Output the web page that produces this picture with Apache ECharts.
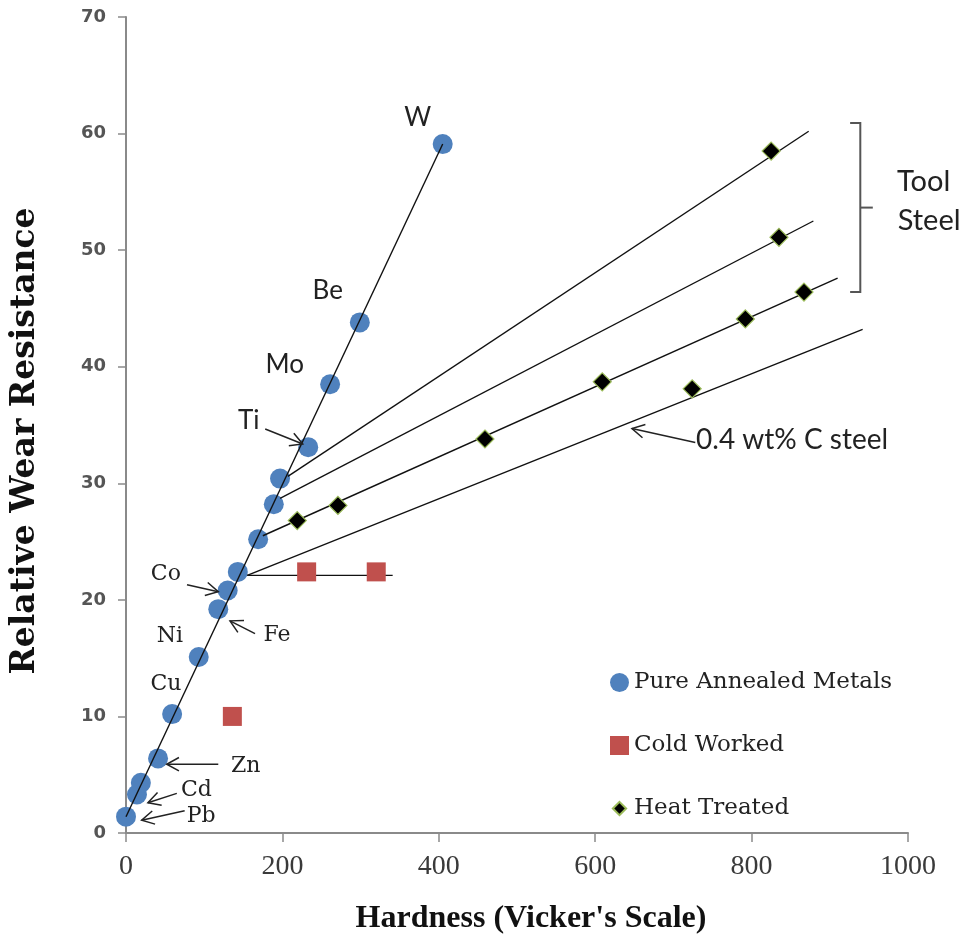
<!DOCTYPE html>
<html>
<head>
<meta charset="utf-8">
<script src="https://cdn.jsdelivr.net/npm/echarts@6/dist/echarts.min.js"></script>
<style>
  html, body { margin: 0; padding: 0; background: #ffffff; }
  #chart { width: 969px; height: 940px; }
</style>
</head>
<body>
<div id="chart"></div>
<script>
// ---- Measured values: hardness (Vickers) vs relative wear resistance ----
const annealedHardness = [0, 14, 19, 41, 59, 93, 118, 130, 143, 169, 189, 197, 233, 261, 299, 405];
const annealedWear     = [1.4, 3.3, 4.3, 6.4, 10.2, 15.1, 19.2, 20.8, 22.4, 25.2, 28.2, 30.4, 33.1, 38.5, 43.8, 59.1];

const coldHardness = [136, 231, 320];
const coldWear     = [10.0, 22.4, 22.4];

const heatHardness = [219, 271, 459, 609, 724, 792, 825, 835, 867];
const heatWear     = [26.8, 28.1, 33.8, 38.7, 38.1, 44.1, 58.5, 51.1, 46.4];

// Trend lines as [hardness0, wear0, hardness1, wear1]
const annealedTrend = [0, 1.4, 405, 59.1];
const coldTrend     = [155, 22.1, 341, 22.1];
const steelTrends   = [
  [207, 30.6, 873, 60.2],
  [197, 28.7, 879, 52.5],
  [175, 25.5, 910, 47.6],
  [155, 22.1, 942, 43.2]
];

// Axis ranges
const xAxisMin = 0, xAxisMax = 1000, xAxisStep = 200;
const yAxisMin = 0, yAxisMax = 70, yAxisStep = 10;

// Element labels (placed in data coordinates)
const sansLabels  = ['W', 'Be', 'Mo', 'Ti'];
const sansLabelX  = [373, 258, 203, 157];
const sansLabelY  = [61.4, 46.5, 40.2, 35.4];
const serifLabels = ['Co', 'Ni', 'Cu', 'Fe', 'Zn', 'Cd', 'Pb'];
const serifLabelX = [51, 56, 51, 193, 153, 90, 96];
const serifLabelY = [22.2, 16.9, 12.8, 17.0, 5.7, 3.7, 1.4];

// Pointer arrows [tailX, tailY, tipX, tipY]
const pointerArrows = [
  [178, 34.66, 226, 33.37],   // Ti
  [78, 21.3, 118, 20.7],      // Co
  [165, 17.1, 133, 18.2],     // Fe
  [118, 5.9, 52, 5.9],        // Zn
  [65, 3.4, 28, 2.6],         // Cd
  [75, 1.9, 20, 1.1],         // Pb
  [728, 33.5, 647, 34.7]      // 0.4 wt% C steel
];

// Tool-steel bracket and notes
const bracket = { xHook: 926, xSpine: 939, xTip: 955, yTop: 60.9, yBottom: 46.4, yMid: 53.65 };
const toolSteelText = ['Tool', 'Steel'];
const toolSteelX = [1020, 1027];
const toolSteelY = [55.9, 52.5];
const carbonSteelText = '0.4 wt% C steel';
const carbonSteelPos = [729, 33.7];

const seriesNames = ['Pure Annealed Metals', 'Cold Worked', 'Heat Treated'];

const pairs = (xs, ys) => xs.map((x, i) => [x, ys[i]]);
const seg = s => [[s[0], s[1]], [s[2], s[3]]];

const trendLine = (name, s) => ({
  name: name,
  type: 'line',
  data: seg(s),
  symbol: 'none',
  silent: true,
  z: 3,
  lineStyle: { color: '#111', width: 1.4 },
  animation: false
});

const chart = echarts.init(document.getElementById('chart'), null, { renderer: 'canvas' });

const option = {
  animation: false,
  backgroundColor: '#ffffff',
  grid: { left: 126, right: 61, top: 17, bottom: 105, containLabel: false },
  xAxis: {
    type: 'value',
    min: xAxisMin, max: xAxisMax, interval: xAxisStep,
    name: 'Hardness (Vicker\'s Scale)',
    nameLocation: 'middle',
    nameGap: 70,
    nameTextStyle: { fontFamily: 'Liberation Serif', fontWeight: 'bold', fontSize: 32, color: '#111', padding: [0, 0, 0, 28] },
    axisLine: { lineStyle: { color: '#8a8a8a', width: 2 } },
    axisTick: { length: 9, lineStyle: { color: '#8a8a8a', width: 1.5 } },
    axisLabel: { margin: 20, fontFamily: 'Liberation Serif', fontSize: 28, color: '#3a3a3a', formatter: v => String(v) },
    splitLine: { show: false }
  },
  yAxis: {
    type: 'value',
    min: yAxisMin, max: yAxisMax, interval: yAxisStep,
    name: 'Relative Wear Resistance',
    nameLocation: 'middle',
    nameRotate: 90,
    nameGap: 84,
    nameTextStyle: { fontFamily: 'DejaVu Serif', fontWeight: 'bold', fontSize: 33, color: '#111', padding: [0, 32, 0, 0] },
    axisLine: { show: true, lineStyle: { color: '#8a8a8a', width: 2 } },
    axisTick: { show: true, length: 8, lineStyle: { color: '#8a8a8a', width: 1.5 } },
    axisLabel: { margin: 20, fontFamily: 'DejaVu Sans', fontWeight: 'bold', fontSize: 18, color: '#555' },
    splitLine: { show: false }
  },
  legend: {
    orient: 'vertical',
    left: 604,
    top: 666,
    itemWidth: 19,
    itemHeight: 19,
    itemGap: 40,
    data: [
      { name: seriesNames[0], icon: 'circle' },
      { name: seriesNames[1], icon: 'rect' },
      { name: seriesNames[2], icon: 'path://M0,0M20,20M10,3L17,10L10,17L3,10Z' }
    ],
    textStyle: { fontFamily: 'DejaVu Serif', fontSize: 23, color: '#222', lineHeight: 19 }
  },
  series: [
    {
      name: seriesNames[0],
      type: 'scatter',
      data: pairs(annealedHardness, annealedWear),
      symbol: 'circle',
      symbolSize: 20,
      z: 2,
      itemStyle: { color: '#4f81bd', opacity: 1 }
    },
    trendLine('annealed trend', annealedTrend),
    trendLine('cold trend', coldTrend),
    ...steelTrends.map((s, i) => trendLine('steel trend ' + i, s)),
    {
      name: seriesNames[1],
      type: 'scatter',
      data: pairs(coldHardness, coldWear),
      symbol: 'rect',
      symbolSize: 19,
      z: 4,
      itemStyle: { color: '#c0504d', opacity: 1 }
    },
    {
      name: seriesNames[2],
      type: 'scatter',
      data: pairs(heatHardness, heatWear),
      symbol: 'diamond',
      symbolSize: 18,
      z: 4,
      itemStyle: { color: '#000000', borderColor: '#9bbb59', borderWidth: 1.2, opacity: 1 }
    },
    {
      // element name labels, sans
      type: 'custom',
      name: 'sans labels',
      silent: true,
      clip: false,
      z: 6,
      data: pairs(sansLabelX, sansLabelY),
      renderItem: (params, api) => {
        const p = api.coord([api.value(0), api.value(1)]);
        return { type: 'text', x: p[0], y: p[1],
          style: { text: sansLabels[params.dataIndex], font: '26px Lato', fill: '#222', align: 'center', verticalAlign: 'middle' } };
      }
    },
    {
      // element name labels, serif
      type: 'custom',
      name: 'serif labels',
      silent: true,
      clip: false,
      z: 6,
      data: pairs(serifLabelX, serifLabelY),
      renderItem: (params, api) => {
        const p = api.coord([api.value(0), api.value(1)]);
        return { type: 'text', x: p[0], y: p[1],
          style: { text: serifLabels[params.dataIndex], font: '22px "DejaVu Serif"', fill: '#222', align: 'center', verticalAlign: 'middle' } };
      }
    },
    {
      // pointer arrows with open heads
      type: 'custom',
      name: 'arrows',
      silent: true,
      clip: false,
      z: 6,
      data: pointerArrows,
      renderItem: (params, api) => {
        const a = api.coord([api.value(0), api.value(1)]);
        const b = api.coord([api.value(2), api.value(3)]);
        const ang = Math.atan2(b[1] - a[1], b[0] - a[0]);
        const L = 14, w = 0.5;
        const h1 = [b[0] - L * Math.cos(ang - w), b[1] - L * Math.sin(ang - w)];
        const h2 = [b[0] - L * Math.cos(ang + w), b[1] - L * Math.sin(ang + w)];
        return { type: 'group', children: [
          { type: 'line', shape: { x1: a[0], y1: a[1], x2: b[0], y2: b[1] }, style: { stroke: '#222', lineWidth: 1.5 } },
          { type: 'polyline', shape: { points: [h1, b, h2] }, style: { stroke: '#222', lineWidth: 1.5, fill: null } }
        ] };
      }
    },
    {
      // tool steel bracket and notes
      type: 'custom',
      name: 'notes',
      silent: true,
      clip: false,
      z: 6,
      data: [[bracket.xSpine, bracket.yMid]],
      renderItem: (params, api) => {
        const c = (x, y) => api.coord([x, y]);
        const tl = c(bracket.xHook, bracket.yTop), tr = c(bracket.xSpine, bracket.yTop);
        const bl = c(bracket.xHook, bracket.yBottom), br = c(bracket.xSpine, bracket.yBottom);
        const m = c(bracket.xSpine, bracket.yMid), mt = c(bracket.xTip, bracket.yMid);
        const children = [
          { type: 'polyline', shape: { points: [tl, tr, br, bl] }, style: { stroke: '#555', lineWidth: 2, fill: null } },
          { type: 'line', shape: { x1: m[0], y1: m[1], x2: mt[0], y2: mt[1] }, style: { stroke: '#555', lineWidth: 2 } }
        ];
        toolSteelText.forEach((t, i) => {
          const p = c(toolSteelX[i], toolSteelY[i]);
          children.push({ type: 'text', x: p[0], y: p[1],
            style: { text: t, font: '29px Lato', fill: '#222', align: 'center', verticalAlign: 'middle' } });
        });
        const q = c(carbonSteelPos[0], carbonSteelPos[1]);
        children.push({ type: 'text', x: q[0], y: q[1],
          style: { text: carbonSteelText, font: '28px Lato', fill: '#222', align: 'left', verticalAlign: 'middle' } });
        return { type: 'group', children: children };
      }
    }
  ]
};

chart.setOption(option);
</script>
</body>
</html>
